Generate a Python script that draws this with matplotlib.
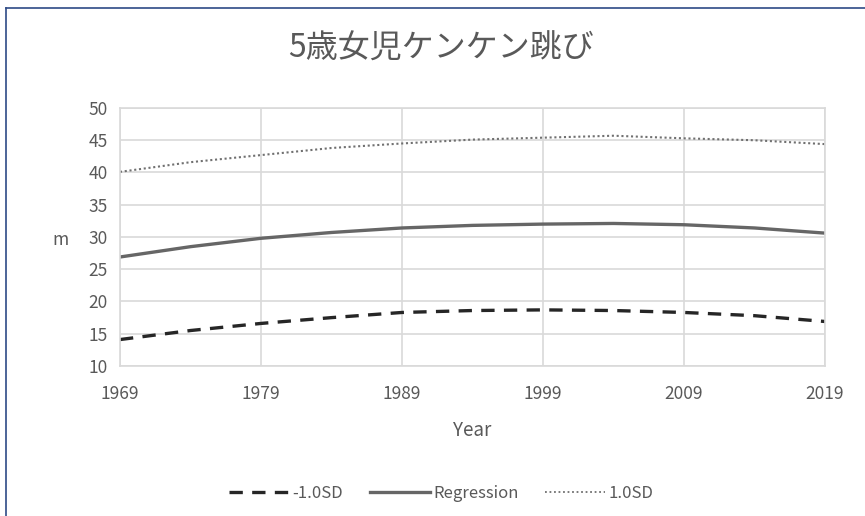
import matplotlib.pyplot as plt
from matplotlib.lines import Line2D

plt.rcParams['font.family'] = ['Noto Sans CJK JP', 'DejaVu Sans']

# Series read every five years
years = [1969, 1974, 1979, 1984, 1989, 1994, 1999, 2004, 2009, 2014, 2019]
minus_sd = [14.1, 15.5, 16.6, 17.5, 18.3, 18.6, 18.7, 18.6, 18.3, 17.8, 16.9]
regression = [26.9, 28.5, 29.8, 30.7, 31.4, 31.8, 32.0, 32.1, 31.9, 31.4, 30.6]
plus_sd = [40.1, 41.6, 42.7, 43.8, 44.5, 45.1, 45.4, 45.7, 45.3, 45.0, 44.4]

x_ticks = [1969, 1979, 1989, 1999, 2009, 2019]
y_ticks = [10, 15, 20, 25, 30, 35, 40, 45, 50]

text_color = '#595959'
grid_color = '#D9D9D9'

fig = plt.figure(figsize=(8.65, 5.16), dpi=100)
ax = fig.add_axes([0.1387, 0.2907, 0.8151, 0.5000])

ax.plot(years, minus_sd, color='#262626', lw=2.4, ls=(0, (4, 2.8)), label='-1.0SD')
ax.plot(years, regression, color='#666666', lw=2.4, label='Regression')
ax.plot(years, plus_sd, color='#707070', lw=1.5, ls=(0, (1, 1.3)), label='1.0SD')

ax.set_xlim(1969, 2019)
ax.set_ylim(10, 50)
ax.set_xticks(x_ticks)
ax.set_yticks(y_ticks)
ax.grid(True, color=grid_color, lw=1.2)
ax.tick_params(length=0, labelsize=12.5, colors=text_color)
ax.tick_params(axis='x', pad=14)
ax.tick_params(axis='y', pad=9)
for s in ax.spines.values():
    s.set_color(grid_color)
    s.set_linewidth(1.2)

ax.set_xlabel('Year', fontsize=13.5, color=text_color, labelpad=12)
fig.text(0.0705, 0.535, 'm', fontsize=12.5, color=text_color, ha='center', va='center')
fig.text(0.51, 0.906, '5歳女児ケンケン跳び', fontsize=23, color=text_color,
         ha='center', va='center')

handles = [Line2D([], [], color='#262626', lw=2.4, ls=(0, (4, 2.8))),
           Line2D([], [], color='#666666', lw=2.4),
           Line2D([], [], color='#707070', lw=1.3, ls=(0, (1, 1.5)))]
fig.legend(handles, ['-1.0SD', 'Regression', '1.0SD'], loc='center',
           bbox_to_anchor=(0.51, 0.043), ncol=3, frameon=False, fontsize=12,
           labelcolor=text_color, handlelength=3.6, handletextpad=0.2,
           columnspacing=1.6)

# outer chart frame (left and top edges)
fig.add_artist(Line2D([0.0065, 0.0065], [0, 0.985], color='#2E4A86', lw=1.2,
                      transform=fig.transFigure))
fig.add_artist(Line2D([0.0065, 1], [0.985, 0.985], color='#2E4A86', lw=1.2,
                      transform=fig.transFigure))

fig.savefig('out.png', dpi=100)
